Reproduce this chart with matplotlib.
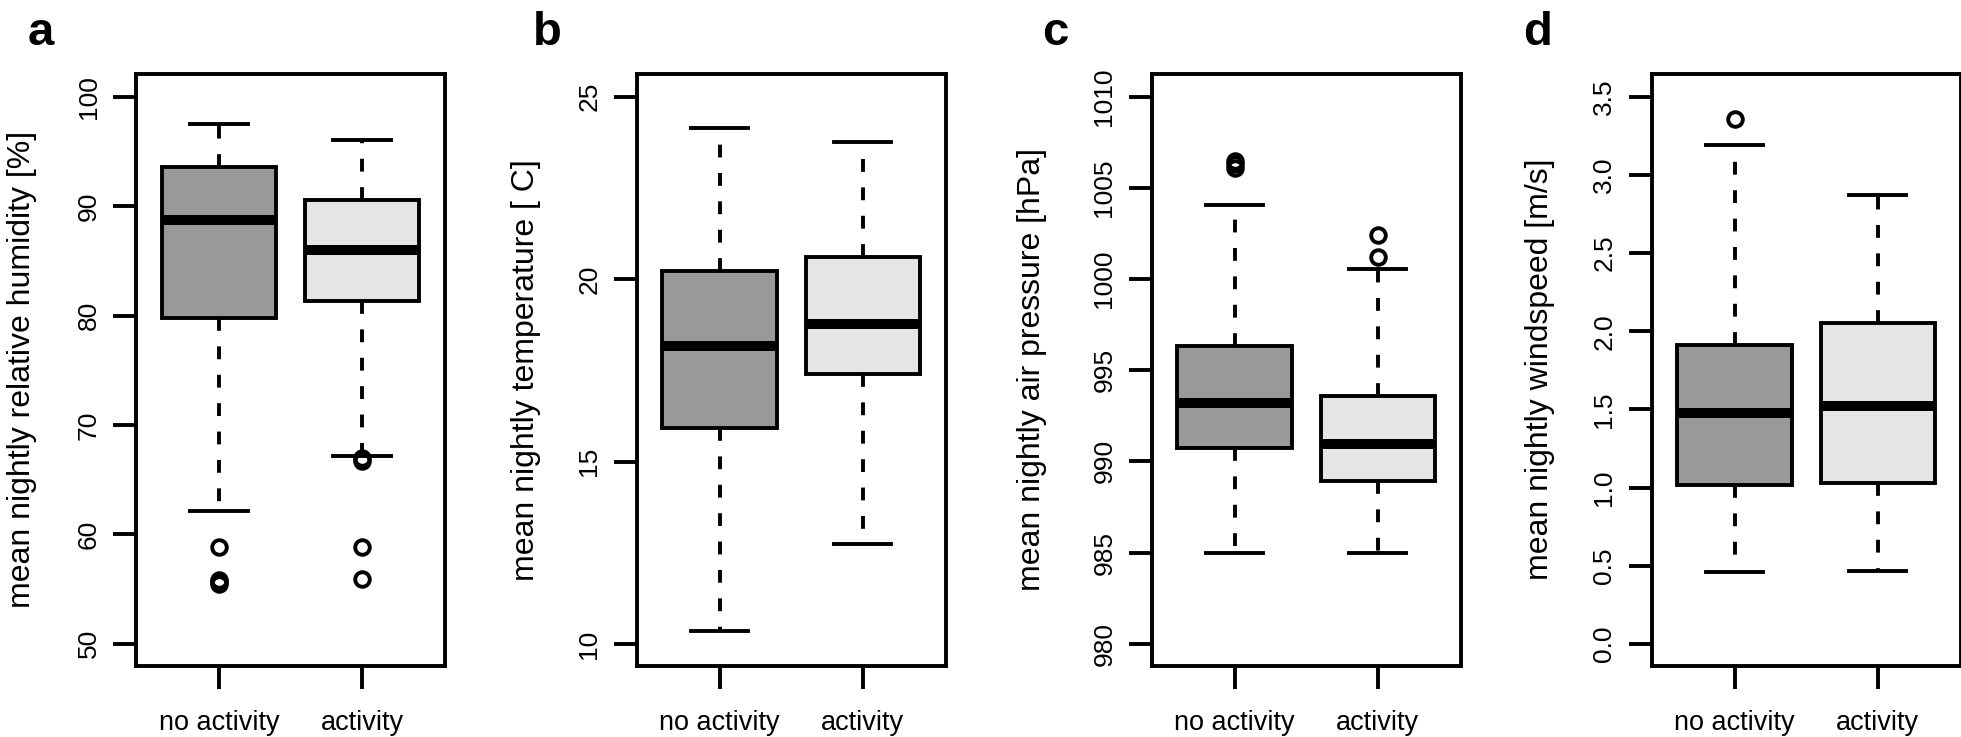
import numpy as np
import matplotlib
matplotlib.use("Agg")
import matplotlib.pyplot as plt

plt.rcParams['font.family'] = ['Liberation Sans', 'DejaVu Sans']

groups = ['no activity', 'activity']
box_colors = ['#999999', '#e5e5e5']
panel_letters = ['a', 'b', 'c', 'd']

ylabels = ['mean nightly relative humidity [%]',
           'mean nightly temperature [ C]',
           'mean nightly air pressure [hPa]',
           'mean nightly windspeed [m/s]']

# five number summaries: whislo, q1, med, q3, whishi  (no activity, activity)
humidity = [[62.1, 79.8, 88.7, 93.6, 97.5], [67.2, 81.3, 85.95, 90.6, 96.05]]
humidity_out = [[58.8, 55.8, 55.6, 55.5], [67.0, 66.7, 58.8, 55.9]]

temperature = [[10.37, 15.93, 18.16, 20.22, 24.15], [12.74, 17.41, 18.76, 20.61, 23.75]]
temperature_out = [[], []]

pressure = [[984.95, 990.75, 993.2, 996.31, 1004.05], [984.95, 988.94, 990.95, 993.58, 1000.57]]
pressure_out = [[1006.1, 1006.3, 1006.5], [1001.19, 1002.42]]

windspeed = [[0.46, 1.02, 1.48, 1.91, 3.19], [0.47, 1.03, 1.52, 2.05, 2.87]]
windspeed_out = [[3.36], []]

yticks = [[50, 60, 70, 80, 90, 100],
          [10, 15, 20, 25],
          [980, 985, 990, 995, 1000, 1005, 1010],
          [0.0, 0.5, 1.0, 1.5, 2.0, 2.5, 3.0, 3.5]]
ytick_labels = [['50', '60', '70', '80', '90', '100'],
                ['10', '15', '20', '25'],
                ['980', '985', '990', '995', '1000', '1005', '1010'],
                ['0.0', '0.5', '1.0', '1.5', '2.0', '2.5', '3.0', '3.5']]
ylims = [(48.0, 102.1), (9.41, 25.63), (978.8, 1011.26), (-0.138, 3.647)]

summaries = [humidity, temperature, pressure, windspeed]
outliers = [humidity_out, temperature_out, pressure_out, windspeed_out]

W, H = 1961, 737
fig = plt.figure(figsize=(W / 100, H / 100), dpi=100)

ax_left = [136, 636.7, 1151.7, 1651.7]
ax_w = 309
ax_top, ax_bot = 73.8, 665.6
letter_x = [28, 533, 1042, 1523]
ylabel_x = [22, 526, 1032, 1540]

lw = 2.8

for i in range(4):
    ax = fig.add_axes([ax_left[i] / W, 1 - ax_bot / H, ax_w / W, (ax_bot - ax_top) / H])

    stats = []
    for j in range(2):
        lo, q1, med, q3, hi = summaries[i][j]
        stats.append(dict(whislo=lo, q1=q1, med=med, q3=q3, whishi=hi,
                          fliers=outliers[i][j], label=groups[j]))

    bp = ax.bxp(stats, positions=[1, 2], widths=0.8, capwidths=0.4, patch_artist=True,
                boxprops=dict(edgecolor='black', linewidth=lw),
                medianprops=dict(color='black', linewidth=7.2, solid_capstyle='butt'),
                whiskerprops=dict(color='black', linewidth=lw, linestyle=(0, (3.3, 4.0))),
                capprops=dict(color='black', linewidth=lw),
                flierprops=dict(marker='o', markerfacecolor='none', markeredgecolor='black',
                                markersize=10.5, markeredgewidth=2.8, linestyle='none'))
    for patch, c in zip(bp['boxes'], box_colors):
        patch.set_facecolor(c)

    ax.set_xlim(0.42, 2.58)
    ax.set_ylim(*ylims[i])
    ax.set_xticks([1, 2])
    ax.set_xticklabels(groups, fontsize=19.5)
    ax.set_yticks(yticks[i])
    ax.set_yticklabels(ytick_labels[i], fontsize=19, rotation=90, va='center')

    ax.tick_params(axis='both', direction='out', length=16.5, width=lw, color='black')
    ax.tick_params(axis='x', pad=15.5)
    ax.tick_params(axis='y', pad=9)
    for s in ax.spines.values():
        s.set_linewidth(lw)

    fig.text(ylabel_x[i] / W, 1 - (ax_top + ax_bot) / 2 / H, ylabels[i], rotation=90,
             ha='center', va='center', fontsize=23)
    fig.text(letter_x[i] / W, 1 - 45 / H, panel_letters[i], ha='left', va='baseline',
             fontsize=34, fontweight='bold')

fig.savefig('out.png', dpi=100)
